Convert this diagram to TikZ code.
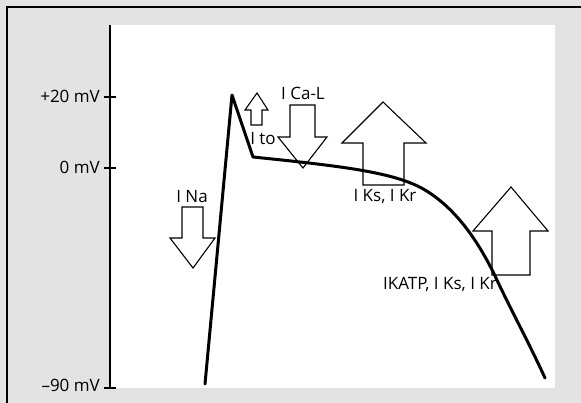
\documentclass[tikz,border=0pt]{standalone}
\usepackage{fontspec}
\setmainfont{Open Sans}
\begin{document}
\begin{tikzpicture}[x=1pt,y=-1pt,
  lbl/.style={inner sep=0pt,font=\fontsize{17}{19}\selectfont},
  ion/.style={draw=black,line width=1.1pt,fill=white,line join=miter},
  trace/.style={line width=3pt,line join=round,line cap=round}]
\useasboundingbox (0,0) rectangle (581,403);
\definecolor{panel}{HTML}{E3E3E3}
\fill[panel] (0,0) rectangle (581,403);
\draw[line width=1.3pt] (7,403) -- (7,7) -- (581,7);
\fill[white] (110,25) rectangle (555,388);
% axis
\draw[line width=1.1pt] (110,25) -- (110,388);
\draw[line width=1.1pt] (104,97) -- (116,97);
\draw[line width=1.1pt] (104,168) -- (116,168);
\draw[line width=1.1pt] (104,388) -- (116,388);
\node[lbl,anchor=east] (p20) at (100,96) {+20 mV};
\node[lbl,anchor=east] (z0) at (100,167) {0 mV};
\node[lbl,anchor=east] (m90) at (100,385) {–90 mV};
% ion arrows
% I Na (down)
\draw[ion] (182,207) -- (203,207) -- (203,238) -- (215,238) -- (193,268) -- (170,238) -- (182,238) -- cycle;
\node[lbl] (ina) at (192,197) {I Na};
% I to (up)
\draw[ion] (251,125) -- (262,125) -- (262,110) -- (268,110) -- (257,93) -- (245,110) -- (251,110) -- cycle;
\node[lbl] (ito) at (263,139) {I to};
% I Ca-L (down)
\draw[ion] (290,105) -- (315,105) -- (315,137) -- (327,137) -- (303,168) -- (278,137) -- (290,137) -- cycle;
\node[lbl] (ical) at (303,93) {I Ca-L};
% I Ks, I Kr (up)
\draw[ion] (363,185) -- (404,185) -- (404,143) -- (426,143) -- (383,102) -- (342,143) -- (363,143) -- cycle;
\node[lbl] (iks) at (385,197) {I Ks, I Kr};
% IKATP (up)
\draw[ion] (492,275) -- (530,275) -- (530,231) -- (548,231) -- (511,187) -- (473,231) -- (492,231) -- cycle;
\node[lbl] (ikatp) at (440,285) {IKATP, I Ks, I Kr};
% action potential
\draw[trace] (205,384) -- (232,95) -- (253,157)
  .. controls (340,166) and (395,172) .. (425,190)
  .. controls (455,208) and (478,240) .. (496,278)
  .. controls (510,308) and (530,345) .. (545,378);
\end{tikzpicture}
\end{document}
